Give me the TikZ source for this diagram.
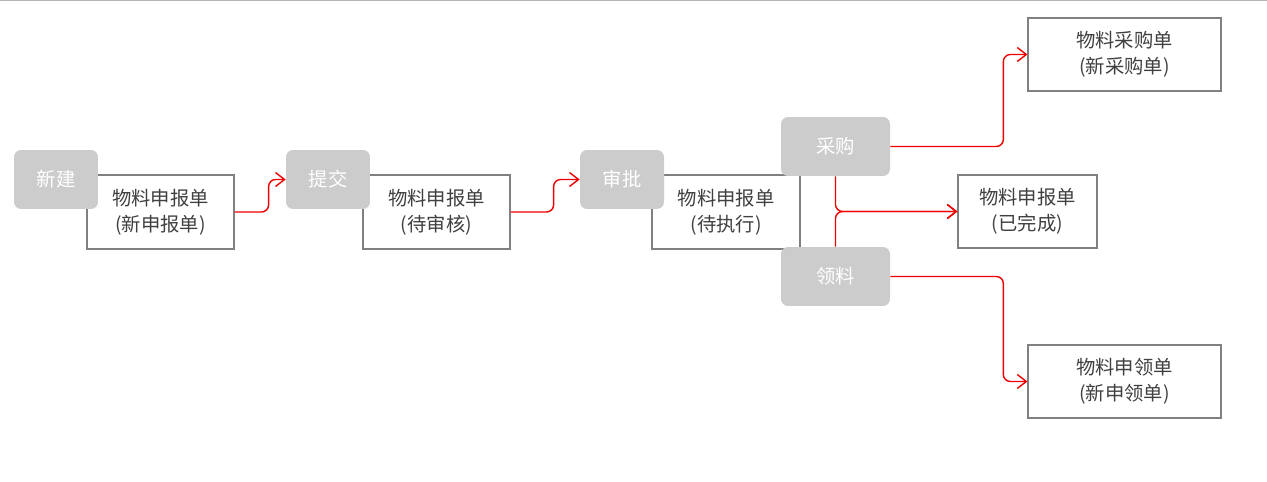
\documentclass[tikz,border=0pt]{standalone}
\usepackage{fontspec}
\setmainfont{Noto Sans CJK SC}
\usetikzlibrary{arrows.meta, positioning}
\definecolor{stagegray}{RGB}{204,204,204}
\definecolor{docborder}{RGB}{128,128,128}
\definecolor{flowred}{RGB}{240,0,0}
\definecolor{doctext}{RGB}{64,64,64}
\definecolor{edgegray}{RGB}{180,180,180}

\begin{document}
\begin{tikzpicture}[
    x=0.02cm, y=-0.02cm,
    stage/.style={rectangle, fill=stagegray, rounded corners=4pt, minimum width=1.68cm, minimum height=1.18cm, text=white, font=\fontsize{11}{14}\selectfont},
    doc/.style={rectangle, draw=docborder, line width=0.7pt, fill=white, minimum width=2.94cm, minimum height=1.48cm, align=center, text=doctext, font=\fontsize{11}{15}\selectfont},
    flow/.style={draw=flowred, line width=0.8pt, rounded corners=4pt, -{Straight Barb[length=1.8mm, width=2.8mm]}}
]
\useasboundingbox (0,0) rectangle (1267,482);
\draw[edgegray, line width=0.8pt] (0,0.6) -- (1267,0.6);

% documents
\node[doc] (newdoc) at (160.5,212) {物料申报单\\(新申报单)};
\node[doc] (pendoc) at (436.5,212) {物料申报单\\(待审核)};
\node[doc, minimum width=2.96cm] (execdoc) at (726,212) {物料申报单\\(待执行)};
\node[doc, minimum width=3.86cm, minimum height=1.46cm] (buydoc) at (1124.5,54.5) {物料采购单\\(新采购单)};
\node[doc, minimum width=2.78cm, minimum height=1.46cm] (donedoc) at (1027.5,211.5) {物料申报单\\(已完成)};
\node[doc, minimum width=3.86cm, minimum height=1.46cm] (pickdoc) at (1124.5,381.5) {物料申领单\\(新申领单)};

% stages
\node[stage] (create) at (56,179.5) {新建};
\node[stage] (submit) at (328,179.5) {提交};
\node[stage] (approve) at (622,179.5) {审批};
\node[stage, minimum width=2.18cm] (purchase) at (835.5,146.5) {采购};
\node[stage, minimum width=2.18cm] (pick) at (835.5,276.5) {领料};

\draw[flow] (newdoc.east) -- ++(34,0) |- (submit.west);
\draw[flow] (pendoc.east) -- ++(43,0) |- (approve.west);
\draw[flow] (purchase.east) -- ++(113,0) |- (buydoc.west);
\draw[flow] (pick.east) -- ++(113,0) |- (pickdoc.west);
\draw[flow] (purchase.south) |- (donedoc.west);
\draw[flow] (pick.north) |- (donedoc.west);
\end{tikzpicture}
\end{document}
